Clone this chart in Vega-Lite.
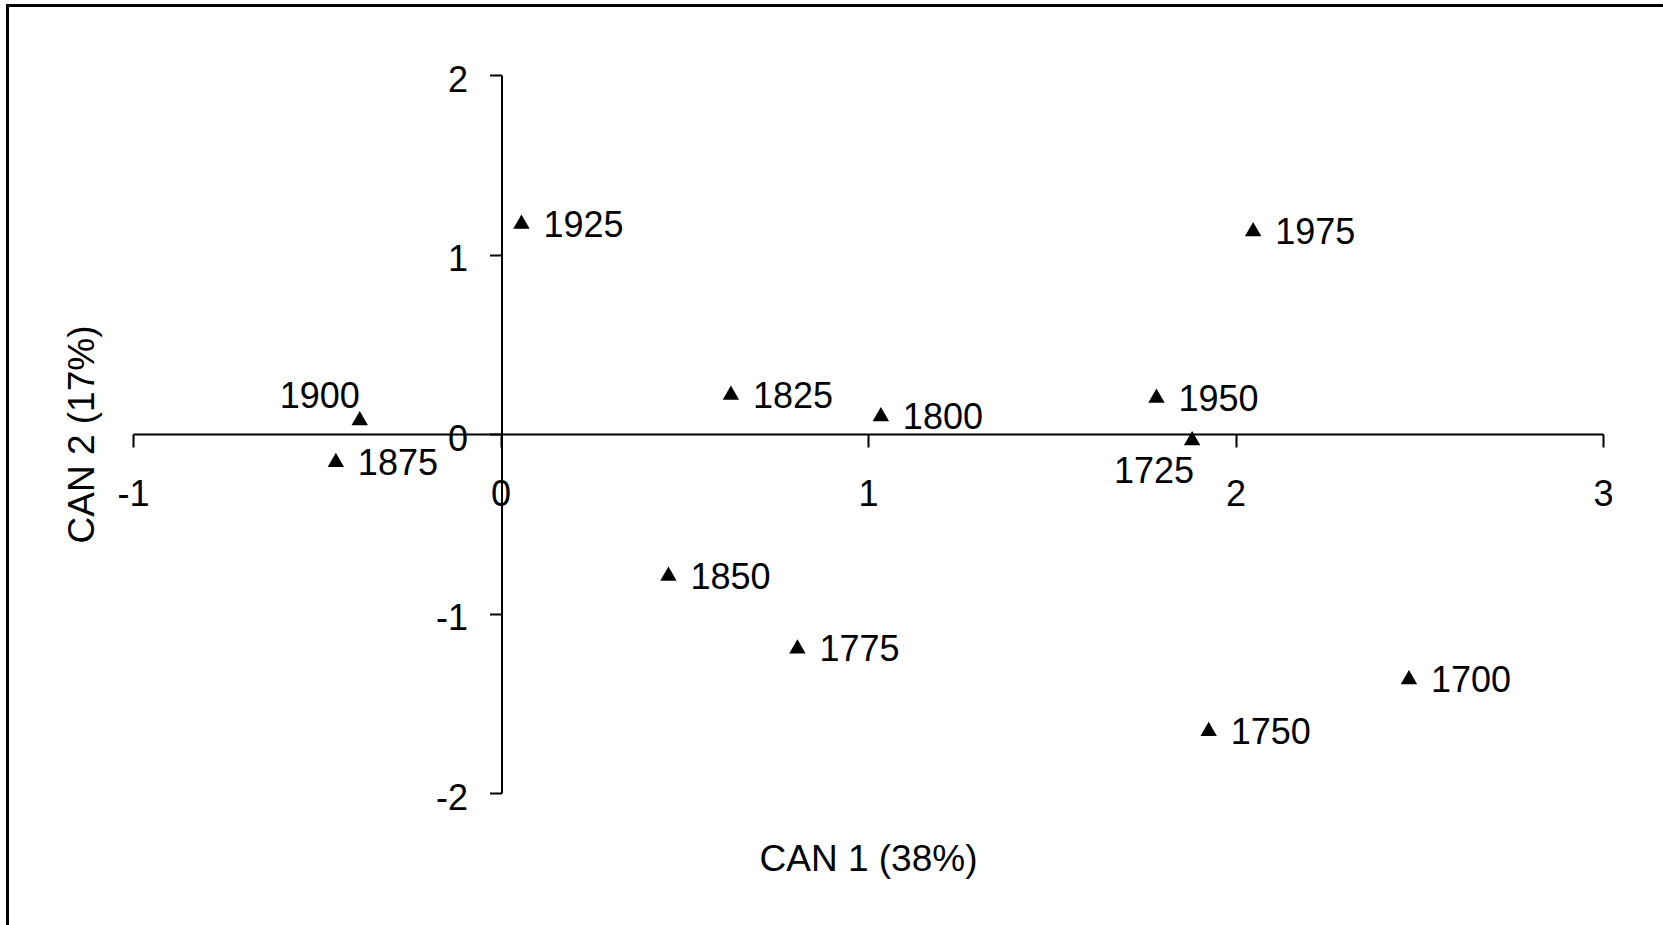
{
  "$schema": "https://vega.github.io/schema/vega-lite/v6.json",
  "width": 1470,
  "height": 718,
  "autosize": {"type": "none"},
  "padding": {"left": 133, "top": 75, "right": 60, "bottom": 132},
  "background": "white",
  "config": {
    "view": {"stroke": null},
    "font": "Liberation Sans",
    "axis": {"grid": false, "domainColor": "black", "domainWidth": 2, "tickColor": "black", "tickWidth": 2, "labelColor": "black", "titleColor": "black", "labelFont": "Liberation Sans", "titleFont": "Liberation Sans", "labelFontSize": 36, "titleFontSize": 37, "titleFontWeight": "normal"}
  },
  "data": {
    "values": [
      {"period": "1700", "can1": 2.472, "can2": -1.354},
      {"period": "1725", "can1": 1.882, "can2": -0.023},
      {"period": "1750", "can1": 1.927, "can2": -1.643},
      {"period": "1775", "can1": 0.808, "can2": -1.183},
      {"period": "1800", "can1": 1.035, "can2": 0.111},
      {"period": "1825", "can1": 0.627, "can2": 0.231},
      {"period": "1850", "can1": 0.457, "can2": -0.778},
      {"period": "1875", "can1": -0.448, "can2": -0.144},
      {"period": "1900", "can1": -0.383, "can2": 0.089},
      {"period": "1925", "can1": 0.057, "can2": 1.183},
      {"period": "1950", "can1": 1.785, "can2": 0.214},
      {"period": "1975", "can1": 2.048, "can2": 1.141}
    ]
  },
  "encoding": {
    "x": {
      "field": "can1", "type": "quantitative",
      "scale": {"domain": [-1, 3], "nice": false, "zero": false},
      "axis": {
        "title": "CAN 1 (38%)", "values": [-1, 0, 1, 2, 3], "labelExpr": "toString(datum.value)",
        "offset": -359, "tickSize": 13, "labelPadding": 58, "labelBaseline": "alphabetic",
        "labelFlush": false, "labelOverlap": false,
        "titleY": 436.5, "titleBaseline": "alphabetic"
      }
    },
    "y": {
      "field": "can2", "type": "quantitative",
      "scale": {"domain": [-2, 2], "nice": false, "zero": false},
      "axis": {
        "title": "CAN 2 (17%)", "values": [-2, -1, 0, 1, 2], "labelExpr": "toString(datum.value)",
        "offset": -368.5, "tickSize": 12, "labelPadding": 22, "labelOffset": 5,
        "labelFlush": false, "labelOverlap": false,
        "titleX": -408.5, "titleBaseline": "alphabetic", "titleAngle": 270
      }
    }
  },
  "layer": [
    {
      "mark": {"type": "rect", "fill": null, "stroke": "black", "strokeWidth": 2, "clip": false},
      "encoding": {
        "x": {"datum": -1.342},
        "x2": {"datum": 3.2},
        "y": {"datum": 2.386},
        "y2": {"datum": -2.8}
      }
    },
    {
      "mark": {"type": "point", "shape": "triangle-up", "filled": true, "color": "black", "opacity": 1, "size": 270}
    },
    {
      "transform": [{"filter": "datum.period !== '1900' && datum.period !== '1725'"}],
      "mark": {"type": "text", "align": "left", "baseline": "middle", "dx": 22, "dy": 4, "fontSize": 36, "font": "Liberation Sans", "color": "black"},
      "encoding": {"text": {"field": "period"}}
    },
    {
      "transform": [{"filter": "datum.period === '1900'"}],
      "mark": {"type": "text", "align": "right", "baseline": "middle", "dx": 0, "dy": -21, "fontSize": 36, "font": "Liberation Sans", "color": "black"},
      "encoding": {"text": {"field": "period"}}
    },
    {
      "transform": [{"filter": "datum.period === '1725'"}],
      "mark": {"type": "text", "align": "right", "baseline": "middle", "dx": 2, "dy": 34, "fontSize": 36, "font": "Liberation Sans", "color": "black"},
      "encoding": {"text": {"field": "period"}}
    }
  ]
}
